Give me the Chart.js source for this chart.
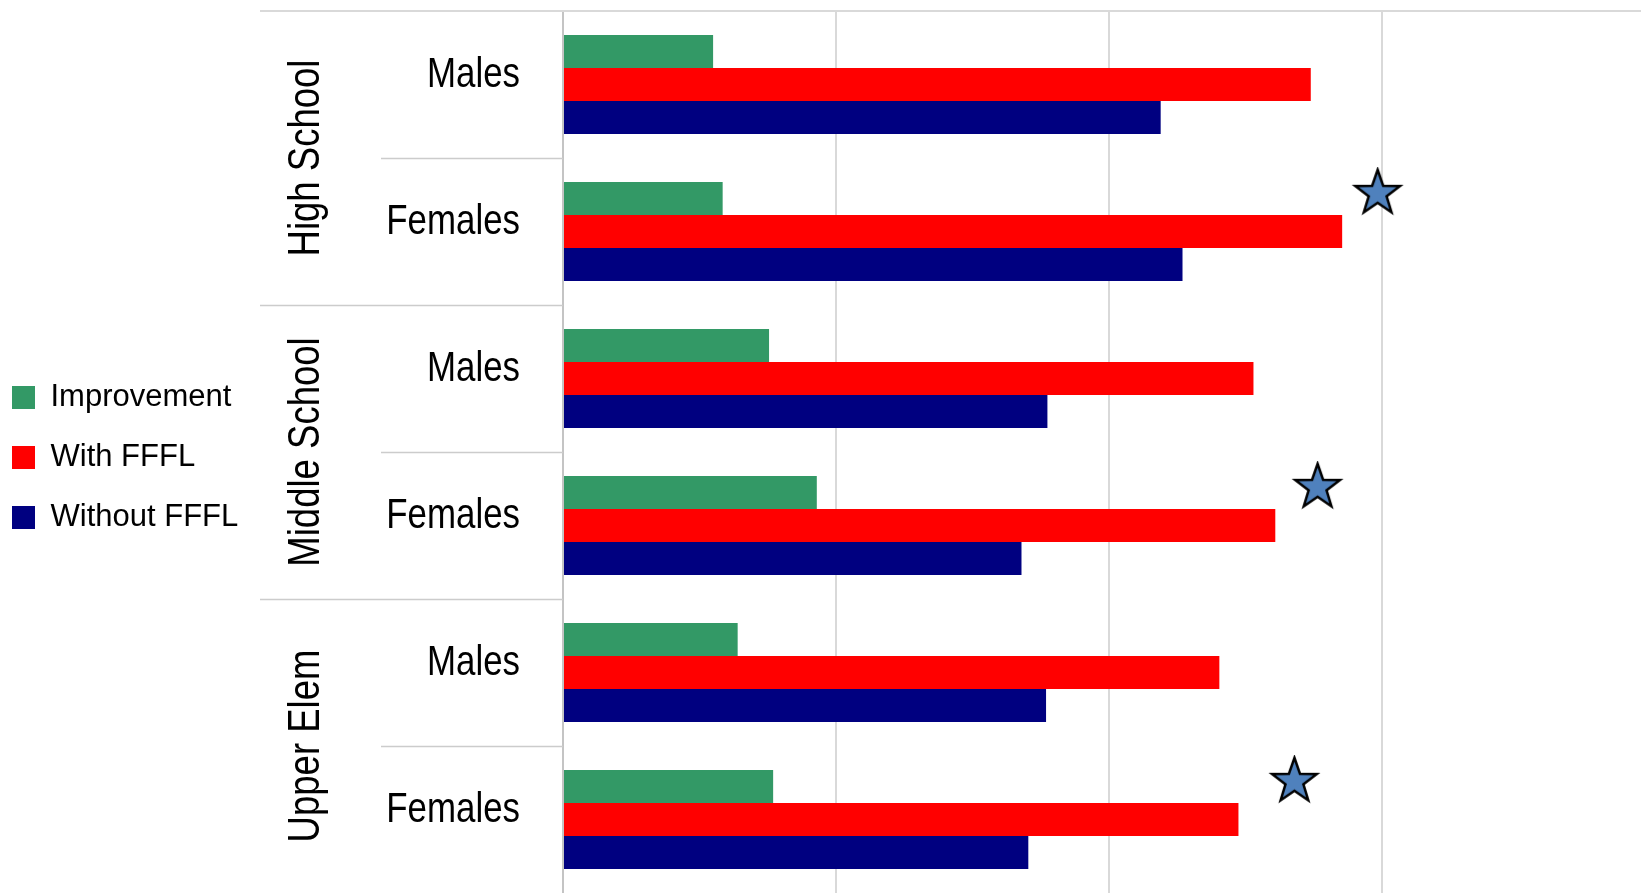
<!DOCTYPE html>
<html>
<head>
<meta charset="utf-8">
<title>FFFL fitness results</title>
<script src="https://cdn.jsdelivr.net/npm/chart.js@4"></script>
<style>
  html, body { margin: 0; padding: 0; background: #fff; overflow: hidden; }
  #wrap { width: 1641px; height: 893px; position: relative; }
</style>
</head>
<body>
<div id="wrap"><canvas id="c"></canvas></div>
<script>
// ---- data ----
const groups = ['High School', 'Middle School', 'Upper Elem'];
const categories = ['Males', 'Females', 'Males', 'Females', 'Males', 'Females'];
const improvement = [11.0, 11.7, 15.1, 18.6, 12.8, 15.4];
const withFFFL = [54.8, 57.1, 50.6, 52.2, 48.1, 49.5];
const withoutFFFL = [43.8, 45.4, 35.5, 33.6, 35.4, 34.1];
const xTicks = [0, 20, 40, 60];
// significant differences are flagged with a star
const starRows = [1, 3, 5];
const starValues = [59.7, 55.3, 53.6];

// ---- styling ----
const SANS = "'Liberation Sans', Arial, sans-serif";
const AXIS_X = 563;          // left edge of the plot
const LAYOUT_LEFT = -17;
const STAR_SHIFT = -0.26;    // stars sit beside the improvement bar
const CONDENSE = 0.83;       // horizontal squeeze for the axis captions

function makeStar(R) {
  const size = Math.ceil(R * 2 + 6);
  const cv = document.createElement('canvas');
  cv.width = size; cv.height = size;
  const g = cv.getContext('2d');
  const cx = size / 2, cy = size / 2, r = R * 0.40;
  g.beginPath();
  for (let k = 0; k < 10; k++) {
    const rad = k % 2 === 0 ? R : r;
    const a = -Math.PI / 2 + k * Math.PI / 5;
    const px = cx + rad * Math.cos(a), py = cy + rad * Math.sin(a);
    k === 0 ? g.moveTo(px, py) : g.lineTo(px, py);
  }
  g.closePath();
  g.fillStyle = '#4F81BD';
  g.fill();
  g.lineWidth = 2.5;
  g.lineJoin = 'miter';
  g.strokeStyle = '#000';
  g.stroke();
  return cv;
}
const starImg = makeStar(23.5);

// category captions, separators and rotated group names left of the plot
const groupPlugin = {
  id: 'groupLabels',
  afterDraw(chart) {
    const { ctx, chartArea } = chart;
    const ys = chart.scales.y;
    const half = (ys.getPixelForValue(1) - ys.getPixelForValue(0)) / 2;
    const per = categories.length / groups.length;
    ctx.save();
    ctx.lineCap = 'butt';
    ctx.strokeStyle = '#d9d9d9';
    ctx.lineWidth = 2;
    ctx.beginPath();
    ctx.moveTo(260, chartArea.top);
    ctx.lineTo(chartArea.right, chartArea.top);
    ctx.stroke();
    ctx.strokeStyle = '#cccccc';
    ctx.lineWidth = 1.5;
    for (let i = 0; i < categories.length - 1; i++) {
      const yb = Math.round(ys.getPixelForValue(i) + half) + 0.5;
      const startX = (i + 1) % per === 0 ? 260 : 381;
      ctx.beginPath();
      ctx.moveTo(startX, yb);
      ctx.lineTo(chartArea.left, yb);
      ctx.stroke();
    }
    ctx.fillStyle = '#000';

    // Males / Females
    ctx.font = '42px ' + SANS;
    ctx.textAlign = 'right';
    ctx.textBaseline = 'middle';
    categories.forEach((name, i) => {
      ctx.save();
      ctx.translate(chartArea.left - 43, ys.getPixelForValue(i) - 9);
      ctx.scale(CONDENSE, 1);
      ctx.fillText(name, 0, 0);
      ctx.restore();
    });

    // school level
    ctx.font = '44px ' + SANS;
    ctx.textAlign = 'center';
    ctx.textBaseline = 'alphabetic';
    groups.forEach((name, g) => {
      const cy = (ys.getPixelForValue(g * per) + ys.getPixelForValue(g * per + per - 1)) / 2;
      ctx.save();
      ctx.translate(319, cy);
      ctx.rotate(-Math.PI / 2);
      ctx.scale(CONDENSE, 1);
      ctx.fillText(name, 0, 0);
      ctx.restore();
    });
    ctx.restore();
  }
};

new Chart(document.getElementById('c'), {
  type: 'bar',
  data: {
    labels: categories,
    datasets: [
      { label: 'Improvement', data: improvement, backgroundColor: '#339966' },
      { label: 'With FFFL', data: withFFFL, backgroundColor: '#FF0000' },
      { label: 'Without FFFL', data: withoutFFFL, backgroundColor: '#000080' },
      {
        type: 'scatter',
        label: 'significant',
        parsing: false,
        data: starRows.map((r, k) => ({ x: starValues[k], y: r + STAR_SHIFT })),
        pointStyle: starImg,
        pointRadius: 24,
        pointHoverRadius: 24,
        order: -1
      }
    ]
  },
  options: {
    indexAxis: 'y',
    responsive: true,
    maintainAspectRatio: false,
    animation: false,
    events: [],
    categoryPercentage: 0.675,
    barPercentage: 1.0,
    layout: { autoPadding: false, padding: { left: LAYOUT_LEFT, top: 11, right: 0, bottom: 0 } },
    scales: {
      x: {
        type: 'linear',
        min: 0,
        max: 79,
        ticks: { display: false, stepSize: 20 },
        afterBuildTicks(scale) {
          scale.ticks = xTicks.map(v => ({ value: v }));
        },
        grid: { color: '#d9d9d9', lineWidth: 2, drawTicks: false },
        border: { display: false }
      },
      y: {
        type: 'category',
        position: 'left',
        ticks: { display: false },
        grid: { display: false, drawTicks: false },
        border: { display: true, color: '#c4c4c4', width: 2 },
        afterFit(scale) {
          const lw = scale.chart.legend ? scale.chart.legend.width : 0;
          scale.width = AXIS_X - LAYOUT_LEFT - lw;
          scale.paddingTop = 0;
          scale.paddingBottom = 0;
        }
      }
    },
    plugins: {
      tooltip: { enabled: false },
      legend: {
        position: 'left',
        align: 'center',
        // empty title only reserves a little room above the entries
        title: { display: true, text: '', font: { size: 1, lineHeight: 1 }, padding: { top: 10, bottom: 0 } },
        labels: {
          boxWidth: 23,
          boxHeight: 23,
          padding: 29,
          color: '#000',
          font: { family: SANS, size: 31 },
          filter: item => item.datasetIndex < 3
        }
      }
    }
  },
  plugins: [groupPlugin]
});
</script>
</body>
</html>
